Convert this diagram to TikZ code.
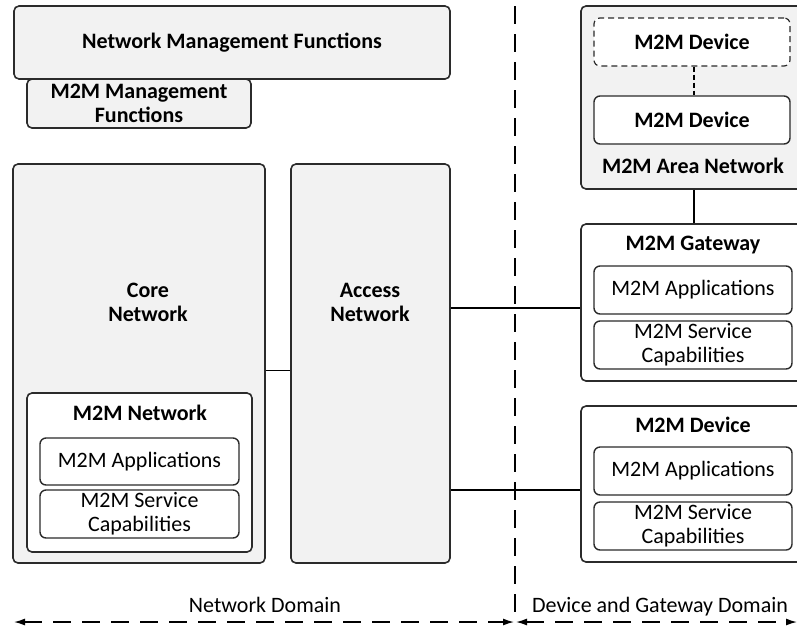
\documentclass[tikz,border=0pt]{standalone}
\usepackage{fontspec}
\setmainfont{Carlito}
\usetikzlibrary{arrows.meta,calc,fit}
\definecolor{boxfill}{HTML}{F2F2F2}
\definecolor{edge}{HTML}{2B2B2B}
\begin{document}
\begin{tikzpicture}[x=1pt,y=-1pt,
 outer/.style={draw=edge, line width=1.6pt, fill=boxfill, rounded corners=5pt, inner sep=0pt},
 inner/.style={draw=edge, line width=1.4pt, fill=white, rounded corners=6pt, inner sep=0pt, font=\fontsize{22}{24}\selectfont, align=center},
 dinner/.style={inner, dashed, dash pattern=on 6pt off 4pt, line width=1.2pt},
 txt/.style={font=\fontsize{22}{24}\selectfont, align=center, inner sep=0pt},
 btxt/.style={font=\fontsize{22}{24}\selectfont\bfseries, align=center, inner sep=0pt},
 link/.style={draw=black, line width=1.4pt},
 domarrow/.style={draw=black, line width=1.4pt, dash pattern=on 18pt off 11pt, {Latex[length=11pt,width=7pt]}-{Latex[length=11pt,width=7pt]}}]
\useasboundingbox (0,0) rectangle (797,630);
\clip (0,0) rectangle (797,630);

% network side
\node[outer, fit={(14,6) (450,79)}] (nmf) {};
\node[btxt] at (nmf.center) {Network Management Functions};
\node[outer, fit={(27,79) (251,128)}] (mmf) {};
\node[btxt] at (139,103) {M2M Management\\Functions};

\node[outer, fit={(13,164) (265,563)}] (core) {};
\node[btxt] at (148,302) {Core\\Network};
\node[outer, fit={(27,393) (252,552)}, fill=white] (m2mnet) {};
\node[btxt] at (140,413) {M2M Network};
\node[inner, fit={(40,438) (239,485)}] (napps) {};
\node[txt] at (napps.center) {M2M Applications};
\node[inner, fit={(40,490) (239,538)}] (nserv) {};
\node[txt] at (nserv.center) {M2M Service\\Capabilities};

\node[outer, fit={(291,164) (450,563)}] (access) {};
\node[btxt] at (370,302) {Access\\Network};

% device side
\node[outer, fit={(581,6) (812,189)}] (area) {};
\node[dinner, fit={(594,18) (790,66)}] (ddev) {};
\node[btxt] at (ddev.center) {M2M Device};
\node[inner, fit={(594,96) (790,144)}] (adev) {};
\node[btxt] at (adev.center) {M2M Device};
\node[btxt] at (693,166) {M2M Area Network};

\node[outer, fit={(581,224) (812,381)}, fill=white] (gw) {};
\node[btxt] at (693,245) {M2M Gateway};
\node[inner, fit={(594,266) (792,314)}] (gapps) {};
\node[txt] at (gapps.center) {M2M Applications};
\node[inner, fit={(594,321) (792,369)}] (gserv) {};
\node[txt] at (gserv.center) {M2M Service\\Capabilities};

\node[outer, fit={(581,406) (812,562)}, fill=white] (dev) {};
\node[btxt] at (693,425) {M2M Device};
\node[inner, fit={(594,447) (792,495)}] (dapps) {};
\node[txt] at (dapps.center) {M2M Applications};
\node[inner, fit={(594,502) (792,550)}] (dserv) {};
\node[txt] at (dserv.center) {M2M Service\\Capabilities};

% connectors
\draw[link] ([yshift=-7pt]core.east) -- ([yshift=-7pt]access.west);
\draw[link] (access.east |- 0,308) -- (gw.west |- 0,308);
\draw[link] (access.east |- 0,490) -- (dev.west |- 0,490);
\draw[link, dash pattern=on 5pt off 3pt, line width=1.2pt] (ddev.south -| 694,0) -- (adev.north -| 694,0);
\draw[link] (area.south -| 694,0) -- (gw.north -| 694,0);

% domains
\coordinate (top) at (515,6);
\coordinate (bot) at (515,614);
\draw[black, line width=1.4pt, dash pattern=on 18pt off 10pt] (top) -- (bot);
\coordinate (nl) at (14,622);
\coordinate (nr) at (514,622);
\coordinate (dl) at (516,622);
\coordinate (dr) at (797,622);
\draw[domarrow] (nl) -- (nr);
\draw[domarrow] (dl) -- (dr);
\node[txt, anchor=base] at (265,612) {Network Domain};
\node[txt, anchor=base] at (660,612) {Device and Gateway Domain};
\end{tikzpicture}
\end{document}
